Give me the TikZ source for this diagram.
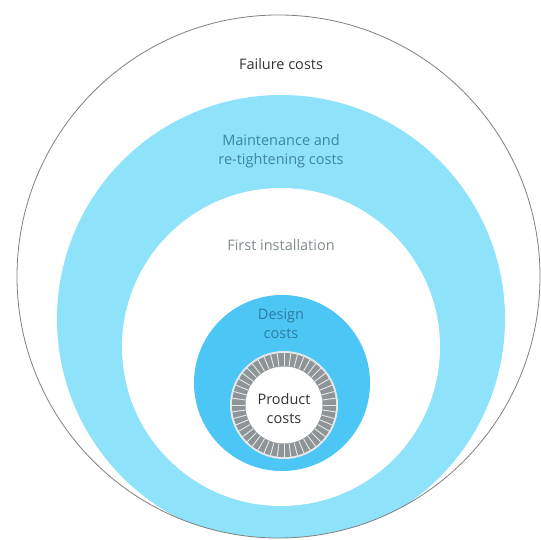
\documentclass[tikz,border=0pt]{standalone}
\usepackage{fontspec}
\setmainfont{Open Sans}
\definecolor{maintblue}{HTML}{8EE2F9}
\definecolor{designblue}{HTML}{4CC6F4}
\definecolor{ringgrey}{HTML}{8F9597}
\definecolor{ringedge}{HTML}{E4E9EB}
\definecolor{darktext}{HTML}{333333}
\definecolor{mainttext}{HTML}{3E86A2}
\definecolor{firsttext}{HTML}{7F8C92}
\definecolor{designtext}{HTML}{2F7DA3}
\begin{document}
\begin{tikzpicture}[x=1pt,y=-1pt,
        costlabel/.style={font=\fontsize{14.5}{19}\selectfont, align=center, inner sep=0pt}]
    \useasboundingbox (0,0) rectangle (540,540);
    \fill[white] (0,0) rectangle (540,540);
    % circles, outside in
    \begin{scope}
        \clip (278.5,276.5) circle (261.5pt);
        \fill[maintblue] (281,319) circle (224pt);
    \end{scope}
    \fill[white] (281,347) circle (159pt);
    \fill[designblue] (282,383) circle (88pt);
    \fill[ringedge] (284,405) circle (54pt);
    \fill[ringgrey] (284,405) circle (52pt);
    \foreach \a in {0,7.5,...,352.5}
        \draw[ringedge, line width=0.9pt] (284,405) ++(\a:39pt) -- ++(\a:13pt);
    \fill[white] (284,405) circle (38.5pt);
    \draw[gray, line width=0.8pt] (278.5,276.5) circle (261.5pt);
    % labels
    \node[costlabel, text=darktext] (failure) at (281,64) {Failure costs};
    \node[costlabel, text=mainttext] (maint) at (281,151) {Maintenance and\\re-tightening costs};
    \node[costlabel, text=firsttext] (first) at (281,245) {First installation};
    \node[costlabel, text=designtext] (design) at (281,324) {Design\\costs};
    \node[costlabel, text=darktext] (product) at (284,409) {Product\\costs};
\end{tikzpicture}
\end{document}
